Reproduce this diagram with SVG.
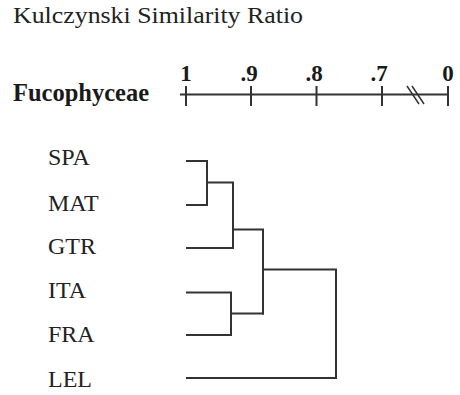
<svg xmlns="http://www.w3.org/2000/svg" width="460" height="395" viewBox="0 0 460 395">
<style>
.title{font-family:"Liberation Serif","Times New Roman",serif;font-size:23px;fill:#222}
.bold{font-family:"Liberation Serif","Times New Roman",serif;font-weight:bold;fill:#1a1a1a}
.lab{font-family:"Liberation Serif","Times New Roman",serif;font-size:24px;fill:#222}
.ln{stroke:#333;stroke-width:2;fill:none;stroke-linecap:square}
</style>
<rect width="460" height="395" fill="#fff"/>
<text id="title" class="title" x="13" y="22.5" textLength="290" lengthAdjust="spacingAndGlyphs">Kulczynski Similarity Ratio</text>
<g id="axis">
<text class="bold" x="13" y="101" font-size="24.5">Fucophyceae</text>
<g class="bold" font-size="23" text-anchor="middle">
<text x="186" y="81">1</text>
<text x="249" y="81">.9</text>
<text x="314" y="81">.8</text>
<text x="379" y="81">.7</text>
<text x="448" y="81">0</text>
</g>
<path class="ln" d="M181 94.5H448 M186 87V105 M251 87V105 M316.5 87V105 M382 87V105 M448 87V105" stroke-linecap="butt"/>
<path d="M407 86L419 104 M412 86L424 104" stroke="#333" stroke-width="1.5" fill="none"/>
</g>
<g id="labels" class="lab">
<text x="48" y="165">SPA</text>
<text x="48" y="211">MAT</text>
<text x="48" y="254">GTR</text>
<text x="48" y="298">ITA</text>
<text x="48" y="342">FRA</text>
<text x="48" y="387">LEL</text>
</g>
<g id="connectors">
<path class="ln" d="M187 161H207V205H187"/>
<path class="ln" d="M207 182.5H233V248H187"/>
<path class="ln" d="M233 229.5H263V313.5"/>
<path class="ln" d="M187 292.5H231V335H187"/>
<path class="ln" d="M231 313.5H263"/>
<path class="ln" d="M263 269.5H336V378H187"/>
</g>
</svg>
